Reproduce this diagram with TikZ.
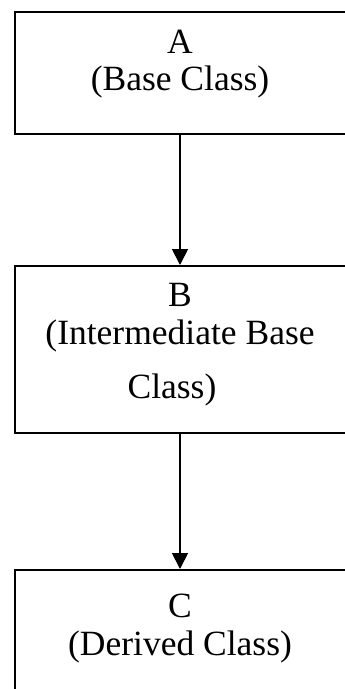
\documentclass[tikz,border=0pt]{standalone}
\usepackage{fontspec}
\setmainfont{Liberation Serif}
\usetikzlibrary{arrows.meta}
\begin{document}
\begin{tikzpicture}[x=1pt,y=-1pt,
  classbox/.style={draw=black,line width=1.6pt},
  label/.style={anchor=base,inner sep=0pt,font=\fontsize{35.5}{40}\selectfont},
  inherit/.style={draw=black,line width=1.8pt,-{Triangle[width=16pt,length=16pt]}}]
  \useasboundingbox (0,0) rectangle (345,689);
  \begin{scope}
    \clip (0,0) rectangle (345,689);
    % class boxes (they run past the right and bottom edges)
    \node[classbox,inner sep=0pt,minimum width=332pt,minimum height=122pt,anchor=north west] (A) at (14,11) {};
    \node[classbox,inner sep=0pt,minimum width=332pt,minimum height=167pt,anchor=north west] (B) at (14,265) {};
    \node[classbox,inner sep=0pt,minimum width=332pt,minimum height=160pt,anchor=north west] (C) at (14,569) {};
  \end{scope}
  % box texts
  \node[label] (Aname) at (180,53) {A};
  \node[label] (Anote) at (180,90) {(Base Class)};
  \node[label] (Bname) at (180,306) {B};
  \node[label] (Bnote1) at (180,344) {(Intermediate Base};
  \node[label] (Bnote2) at (172,398) {Class)};
  \node[label] (Cname) at (180,617) {C};
  \node[label] (Cnote) at (180,655) {(Derived Class)};
  % inheritance arrows
  \coordinate (Abot) at (180,133);
  \coordinate (Btop) at (180,265);
  \coordinate (Bbot) at (180,432);
  \coordinate (Ctop) at (180,569);
  \draw[inherit] (Abot) -- (Btop);
  \draw[inherit] (Bbot) -- (Ctop);
\end{tikzpicture}
\end{document}
